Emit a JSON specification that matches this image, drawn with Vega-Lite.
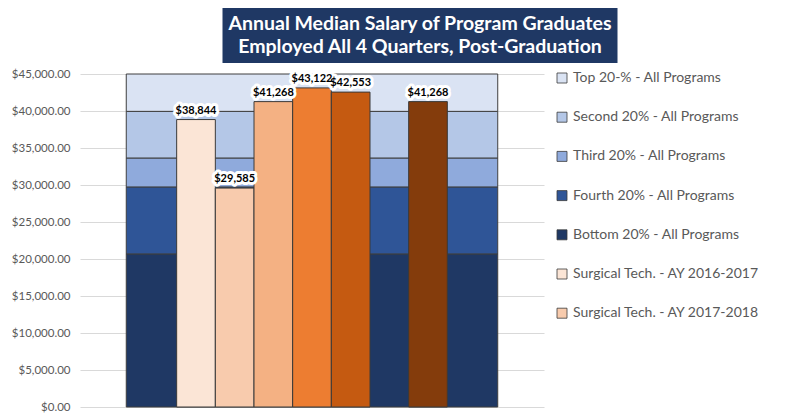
{
  "$schema": "https://vega.github.io/schema/vega-lite/v6.json",
  "background": "white",
  "padding": {"top": 8, "left": 11, "right": 0, "bottom": 0},
  "autosize": {"type": "pad"},
  "spacing": 5,
  "center": true,
  "resolve": {"legend": {"color": "independent"}, "scale": {"color": "independent"}},
  "config": {"view": {"stroke": null}, "font": "Lato"},
  "datasets": {
    "bands": [
      {"group": "All Programs", "series": "Bottom 20% - All Programs", "value": 20690},
      {"group": "All Programs", "series": "Fourth 20% - All Programs", "value": 9050},
      {"group": "All Programs", "series": "Third 20% - All Programs", "value": 3910},
      {"group": "All Programs", "series": "Second 20% - All Programs", "value": 6300},
      {"group": "All Programs", "series": "Top 20-% - All Programs", "value": 5050}
    ],
    "bars": [
      {"series": "Surgical Tech. - AY 2016-2017", "value": 38844},
      {"series": "Surgical Tech. - AY 2017-2018", "value": 29585},
      {"series": "Surgical Tech. - AY 2018-2019", "value": 41268},
      {"series": "Surgical Tech. - AY 2019-2020", "value": 43122},
      {"series": "Surgical Tech. - AY 2020-2021", "value": 42553},
      {"series": "Surgical Tech. - AY 2021-2022", "value": null},
      {"series": "Surgical Tech. - All Years", "value": 41268}
    ]
  },
  "vconcat": [
    {
      "width": 395,
      "height": 55,
      "view": {"fill": "#1F3864", "stroke": null},
      "data": {"values": [{"title": "Annual Median Salary of Program Graduates"}]},
      "mark": {
        "type": "text",
        "text": ["Annual Median Salary of Program Graduates", "Employed All 4 Quarters, Post-Graduation"],
        "font": "Lato",
        "fontWeight": "bold",
        "fontSize": 19.5,
        "lineHeight": 23,
        "color": "white",
        "align": "center",
        "baseline": "middle",
        "dy": -11.5
      },
      "encoding": {}
    },
    {
      "width": 464,
      "height": 333,
      "resolve": {"scale": {"x": "independent"}},
      "layer": [
        {
          "data": {"name": "bands"},
          "transform": [{"window": [{"op": "row_number", "as": "rank"}]}],
          "mark": {"type": "bar", "stroke": "#3F3F3F", "strokeWidth": 1},
          "encoding": {
            "x": {"field": "group", "type": "nominal", "axis": null, "scale": {"paddingInner": 0, "paddingOuter": 0.1245}},
            "y": {
              "field": "value", "type": "quantitative", "stack": "zero",
              "scale": {"domain": [0, 45000], "nice": false},
              "axis": {
                "title": null, "format": "$,.2f",
                "values": [0, 5000, 10000, 15000, 20000, 25000, 30000, 35000, 40000, 45000],
                "tickCount": 20,
                "labelFont": "Lato", "labelFontSize": 11.5, "labelColor": "#595959",
                "ticks": false, "domain": false, "labelPadding": 10,
                "grid": true, "gridColor": "#D9D9D9", "gridWidth": 1
              }
            },
            "color": {
              "field": "series", "type": "nominal",
              "scale": {
                "domain": [
                  "Top 20-% - All Programs", "Second 20% - All Programs", "Third 20% - All Programs",
                  "Fourth 20% - All Programs", "Bottom 20% - All Programs",
                  "Surgical Tech. - AY 2016-2017", "Surgical Tech. - AY 2017-2018", "Surgical Tech. - AY 2018-2019",
                  "Surgical Tech. - AY 2019-2020", "Surgical Tech. - AY 2020-2021", "Surgical Tech. - AY 2021-2022",
                  "Surgical Tech. - All Years"
                ],
                "range": [
                  "#DAE3F3", "#B4C7E7", "#8FAADC", "#2F5597", "#1F3864",
                  "#FBE5D6", "#F8CBAD", "#F4B183", "#ED7D31", "#C55A11", "#A5A5A5", "#843C0C"
                ]
              },
              "legend": {
                "title": null, "orient": "none", "legendX": 475, "legendY": -3,
                "values": [
                  "Top 20-% - All Programs", "Second 20% - All Programs", "Third 20% - All Programs",
                  "Fourth 20% - All Programs", "Bottom 20% - All Programs",
                  "Surgical Tech. - AY 2016-2017", "Surgical Tech. - AY 2017-2018"
                ],
                "symbolType": "square", "symbolSize": 100, "symbolStrokeColor": "#595959",
                "symbolStrokeWidth": 0.8, "symbolOpacity": 1,
                "labelFont": "Lato", "labelFontSize": 14, "labelColor": "#595959",
                "labelOffset": 4, "rowPadding": 25.2, "labelLimit": 320, "padding": 0
              }
            },
            "order": {"field": "rank", "type": "quantitative"}
          }
        },
        {
          "data": {"name": "bars"},
          "encoding": {
            "x": {
              "field": "series", "type": "nominal", "axis": null,
              "scale": {
                "domain": [
                  "(gap 1)", "(gap 2)",
                  "Surgical Tech. - AY 2016-2017", "Surgical Tech. - AY 2017-2018", "Surgical Tech. - AY 2018-2019",
                  "Surgical Tech. - AY 2019-2020", "Surgical Tech. - AY 2020-2021", "Surgical Tech. - AY 2021-2022",
                  "Surgical Tech. - All Years",
                  "(gap 3)", "(gap 4)"
                ],
                "paddingInner": 0, "paddingOuter": 0.5
              }
            },
            "y": {"field": "value", "type": "quantitative"}
          },
          "layer": [
            {
              "mark": {"type": "bar", "stroke": "#3A3A3A", "strokeWidth": 1},
              "encoding": {"color": {"field": "series", "type": "nominal"}}
            },
            {
              "transform": [{"filter": "datum.value != null"}],
              "mark": {
                "type": "text", "font": "Lato", "fontWeight": "bold", "fontSize": 11,
                "baseline": "alphabetic", "dy": -6, "fill": "white", "stroke": "white",
                "strokeWidth": 6, "strokeJoin": "round"
              },
              "encoding": {"text": {"field": "value", "type": "quantitative", "format": "$,.0f"}}
            },
            {
              "transform": [{"filter": "datum.value != null"}],
              "mark": {
                "type": "text", "font": "Lato", "fontWeight": "bold", "fontSize": 11,
                "baseline": "alphabetic", "dy": -6, "fill": "black"
              },
              "encoding": {"text": {"field": "value", "type": "quantitative", "format": "$,.0f"}}
            }
          ]
        }
      ]
    }
  ]
}
